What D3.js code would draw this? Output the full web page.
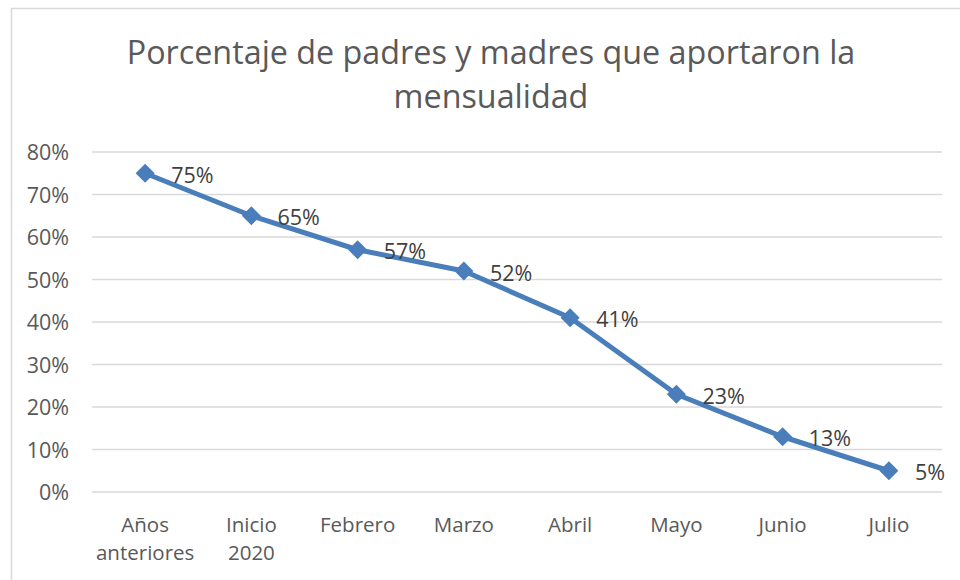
<!DOCTYPE html>
<html><head><meta charset="utf-8">
<script src="https://cdn.jsdelivr.net/npm/d3@7"></script>
<style>body{margin:0;background:#fff}svg{display:block}</style>
</head><body>
<svg id="c" width="960" height="580"></svg>
<script>
const categories = [["Años","anteriores"],["Inicio","2020"],["Febrero"],["Marzo"],["Abril"],["Mayo"],["Junio"],["Julio"]];
const values = [0.75,0.65,0.57,0.52,0.41,0.23,0.13,0.05];
const yTicks = [0,0.1,0.2,0.3,0.4,0.5,0.6,0.7,0.8];
const titleLines = ["Porcentaje de padres y madres que aportaron la","mensualidad"];

const svg = d3.select("#c");
const font = "'Open Sans', sans-serif";
svg.append("rect").attr("x",11.5).attr("y",8.5).attr("width",960).attr("height",600)
  .attr("fill","#fff").attr("stroke","#d9d9d9").attr("stroke-width",1.5);

const x = d3.scaleBand().domain(d3.range(categories.length)).range([92,942]);
const y = d3.scaleLinear().domain([0,0.8]).range([492,152]);

svg.append("g").selectAll("line").data(yTicks).join("line")
  .attr("x1",92).attr("x2",942).attr("y1",d=>y(d)).attr("y2",d=>y(d))
  .attr("stroke","#d9d9d9").attr("stroke-width",1.5);

const yAxis = d3.axisLeft(y).tickValues(yTicks).tickFormat(d3.format(".0%")).tickSize(0).tickPadding(0);
const ga = svg.append("g").attr("transform","translate(69,0)").call(yAxis);
ga.select(".domain").remove();
ga.selectAll("text").attr("font-family",font).attr("font-size",21.5).attr("fill","#595959").attr("dy","0.35em");

svg.append("g").selectAll("text").data(categories).join("text")
  .attr("text-anchor","middle").attr("font-family",font).attr("font-size",20.5).attr("fill","#595959")
  .attr("transform",(d,i)=>`translate(${x(i)+x.bandwidth()/2},532)`)
  .each(function(d){
    d3.select(this).selectAll("tspan").data(d).join("tspan").attr("x",0).attr("dy",(t,j)=>j?28:0).text(t=>t);
  });

const cx = i => x(i)+x.bandwidth()/2;
svg.append("path").datum(values)
  .attr("d", d3.line().x((d,i)=>cx(i)).y(d=>y(d)))
  .attr("fill","none").attr("stroke","#4a7ebb").attr("stroke-width",5).attr("stroke-linejoin","round");

svg.append("g").selectAll("path").data(values).join("path")
  .attr("d", d3.symbol(d3.symbolDiamond2, 230)())
  .attr("transform",(d,i)=>`translate(${cx(i)},${y(d)})`)
  .attr("fill","#4a7ebb");

svg.append("g").selectAll("text").data(values).join("text")
  .attr("x",(d,i)=>cx(i)+26).attr("y",d=>y(d)+2).attr("dy","0.35em")
  .attr("font-family",font).attr("font-size",21.5).attr("fill","#404040")
  .text(d=>d3.format(".0%")(d));

svg.append("g").selectAll("text").data(titleLines).join("text")
  .attr("x",491).attr("y",(d,i)=>64+i*44).attr("text-anchor","middle")
  .attr("font-family",font).attr("font-size",32.3).attr("fill","#595959").text(d=>d);
</script>
</body></html>
